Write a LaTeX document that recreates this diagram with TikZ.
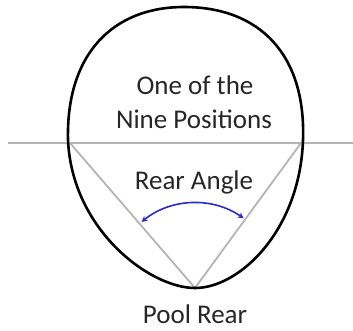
\documentclass[tikz,border=0pt]{standalone}
\usepackage{fontspec}
\setmainfont{Carlito}
\usetikzlibrary{arrows.meta}
\definecolor{guide}{HTML}{B4B4B4}
\definecolor{angleblue}{HTML}{2B2BC8}

\begin{document}
\begin{tikzpicture}[
  x=1pt, y=-1pt,
  txt/.style={anchor=base, font=\fontsize{27}{30}\selectfont, text=black!85, inner sep=0pt},
  pooledge/.style={draw=black, line width=2.6pt},
  sightline/.style={draw=guide, line width=1.8pt},
  angarr/.style={{Stealth[length=6pt,width=6pt]}-{Stealth[length=6pt,width=6pt]}, draw=angleblue, line width=1.6pt},
]
  \useasboundingbox (0,0) rectangle (353,330);

  % Reference points
  \coordinate (lcross) at (70,143);
  \coordinate (rcross) at (301,143);
  \coordinate (apex) at (195,288);
  \coordinate (lineA) at (8,143);
  \coordinate (lineB) at (353,143);

  % Guide lines
  \draw[sightline] (lineA) -- (lineB);
  \draw[sightline] (lcross) -- (apex);
  \draw[sightline] (rcross) -- (apex);

  % Pool outline
  \draw[pooledge] (apex) .. controls (150,288) and (72,230) .. (68,140)
    .. controls (66,55) and (112,7) .. (184,7)
    .. controls (260,7) and (306,55) .. (303,140)
    .. controls (300,230) and (240,288) .. (apex) -- cycle;

  % Rear angle arc
  \draw[angarr] ([shift={(-129:85)}]apex) arc[start angle=-129, end angle=-55, radius=85];

  % Labels
  \node[txt] (pos1) at (195,94) {One of the};
  \node[txt] (pos2) at (194,128) {Nine Positions};
  \node[txt] (angle) at (194,189) {Rear Angle};
  \node[txt] (rear) at (195,323) {Pool Rear};
\end{tikzpicture}
\end{document}
